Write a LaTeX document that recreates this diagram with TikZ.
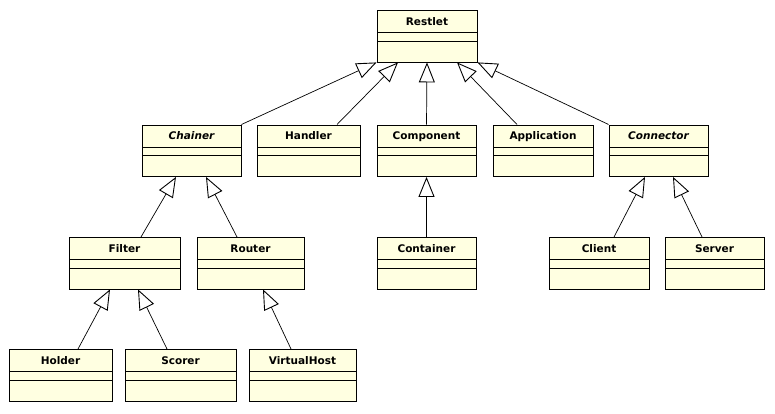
\documentclass[tikz,border=0pt]{standalone}
\usepackage{fontspec}
\setmainfont{DejaVu Sans}
\usetikzlibrary{arrows.meta}
\definecolor{classfill}{RGB}{255,255,225}

\begin{document}
\begin{tikzpicture}[x=1pt, y=-1pt, line width=0.9pt]
  \tikzset{
    cls/.style={draw, fill=classfill, anchor=north, inner sep=0pt,
      minimum width=#1, text height=15pt, text depth=36.5pt,
      font=\bfseries\fontsize{10.5}{12}\selectfont,
      path picture={
        \draw ([yshift=-22pt]path picture bounding box.north west)
          -- ([yshift=-22pt]path picture bounding box.north east);
        \draw ([yshift=-30.5pt]path picture bounding box.north west)
          -- ([yshift=-30.5pt]path picture bounding box.north east);
      }},
    gen/.style={line width=0.7pt, -{Triangle[open, length=20pt, width=16pt, line width=0.9pt]}}
  }
  \useasboundingbox (0,0) rectangle (775,413);

  % classes
  \node[cls=100pt] (restlet) at (427,10) {Restlet};

  \node[cls=99pt]  (chainer)     at (191.5,124.5) {\itshape Chainer};
  \node[cls=103pt] (handler)     at (308.5,124.5) {Handler};
  \node[cls=99pt]  (component)   at (426.5,124.5) {Component};
  \node[cls=100pt] (application) at (543,124.5)   {Application};
  \node[cls=99pt]  (connector)   at (658.5,124.5) {\itshape Connector};

  \node[cls=111pt] (filter)    at (124.5,237) {Filter};
  \node[cls=107pt] (router)    at (250.5,237) {Router};
  \node[cls=99pt]  (container) at (426.5,237) {Container};
  \node[cls=100pt] (client)    at (599,237)   {Client};
  \node[cls=99pt]  (server)    at (714.5,237) {Server};

  \node[cls=103pt] (holder)      at (60.5,349)  {Holder};
  \node[cls=111pt] (scorer)      at (180.5,349) {Scorer};
  \node[cls=107pt] (virtualhost) at (302.5,349) {VirtualHost};

  % generalizations
  \draw[gen] (chainer.north east) -- (restlet.south west);
  \draw[gen] ([xshift=28.5pt]handler.north) -- ([xshift=-29pt]restlet.south);
  \draw[gen] (component.north) -- (restlet.south);
  \draw[gen] ([xshift=-26pt]application.north) -- ([xshift=30pt]restlet.south);
  \draw[gen] (connector.north west) -- (restlet.south east);

  \draw[gen] ([xshift=16.5pt]filter.north) -- ([xshift=-15.5pt]chainer.south);
  \draw[gen] ([xshift=-13.5pt]router.north) -- ([xshift=14.5pt]chainer.south);
  \draw[gen] (container.north) -- (component.south);
  \draw[gen] ([xshift=15pt]client.north) -- ([xshift=-13.5pt]connector.south);
  \draw[gen] ([xshift=-12.5pt]server.north) -- ([xshift=14.5pt]connector.south);

  \draw[gen] ([xshift=17.5pt]holder.north) -- ([xshift=-14.5pt]filter.south);
  \draw[gen] ([xshift=-13.5pt]scorer.north) -- ([xshift=13.5pt]filter.south);
  \draw[gen] ([xshift=-11.5pt]virtualhost.north) -- ([xshift=12.5pt]router.south);
\end{tikzpicture}
\end{document}
